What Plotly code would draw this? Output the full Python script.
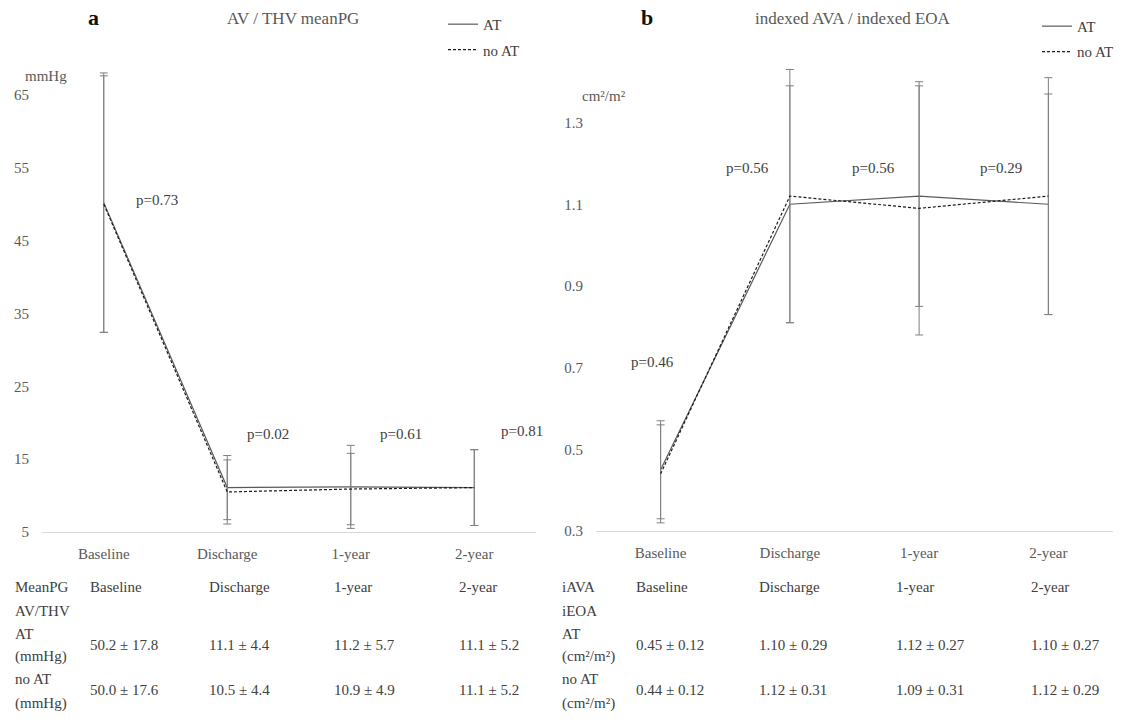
import plotly.graph_objects as go

# ---- data ---------------------------------------------------------------
stages = ["Baseline", "Discharge", "1-year", "2-year"]
xpos = [0, 1, 2, 3]

# mean pressure gradient (mmHg), mean and SD
pg_at_mean = [50.2, 11.1, 11.2, 11.1]
pg_at_sd = [17.8, 4.4, 5.7, 5.2]
pg_noat_mean = [50.0, 10.5, 10.9, 11.1]
pg_noat_sd = [17.6, 4.4, 4.9, 5.2]

# indexed AVA / EOA (cm2/m2), mean and SD
ia_at_mean = [0.45, 1.10, 1.12, 1.10]
ia_at_sd = [0.12, 0.29, 0.27, 0.27]
ia_noat_mean = [0.44, 1.12, 1.09, 1.12]
ia_noat_sd = [0.12, 0.31, 0.31, 0.29]

pg_pvalues = ["p=0.73", "p=0.02", "p=0.61", "p=0.81"]
ia_pvalues = ["p=0.46", "p=0.56", "p=0.56", "p=0.29"]

pg_ticks = [5, 15, 25, 35, 45, 55, 65]
ia_ticks = [0.3, 0.5, 0.7, 0.9, 1.1, 1.3]

# ---- styling ------------------------------------------------------------
W, H = 1127, 722
SERIF = "Liberation Serif, Times New Roman, serif"
TXT = "#404040"
AXTXT = "#595959"
ERR = "#7f7f7f"


def px(x):
    return x / W


def py(y):
    return 1 - y / H


fig = go.Figure()


def add_pair(xa, ya, at_m, at_s, no_m, no_s, legend):
    fig.add_trace(go.Scatter(
        x=xpos, y=at_m, mode="lines", name="AT",
        line=dict(color="#5a5a5a", width=1.2),
        error_y=dict(type="data", array=at_s, color=ERR, thickness=1, width=4),
        xaxis=xa, yaxis=ya, legend=legend, legendgroup=legend + "at",
    ))
    fig.add_trace(go.Scatter(
        x=xpos, y=no_m, mode="lines", name="no AT",
        line=dict(color="#1a1a1a", width=1.2, dash="3px,2px"),
        error_y=dict(type="data", array=no_s, color=ERR, thickness=1, width=4),
        xaxis=xa, yaxis=ya, legend=legend, legendgroup=legend + "noat",
    ))


add_pair("x", "y", pg_at_mean, pg_at_sd, pg_noat_mean, pg_noat_sd, "legend")
add_pair("x2", "y2", ia_at_mean, ia_at_sd, ia_noat_mean, ia_noat_sd, "legend2")

xcommon = dict(
    tickmode="array", tickvals=xpos, ticktext=stages, range=[-0.5, 3.5],
    showgrid=False, zeroline=False, showline=True, linecolor="#d9d9d9",
    linewidth=1, ticks="", tickfont=dict(family=SERIF, size=15, color=AXTXT),
    ticklabelstandoff=8,
)
ycommon = dict(
    tickmode="array", showgrid=False, zeroline=False, showline=False,
    ticks="", tickfont=dict(family=SERIF, size=15, color=AXTXT),
    ticklabelstandoff=12,
)

legend_font = dict(family=SERIF, size=15, color=TXT)
fig.update_layout(
    width=W, height=H,
    margin=dict(l=0, r=0, t=0, b=0),
    paper_bgcolor="white", plot_bgcolor="white",
    xaxis=dict(domain=[px(42), px(536)], anchor="y", **xcommon),
    yaxis=dict(domain=[py(538), py(59)], anchor="x", range=[5, 70],
               tickvals=pg_ticks, **ycommon),
    xaxis2=dict(domain=[px(596), px(1113)], anchor="y2", **xcommon),
    yaxis2=dict(domain=[py(537), py(62)], anchor="x2", range=[0.3, 1.45],
                tickvals=ia_ticks, **ycommon),
    legend=dict(x=px(443), y=py(8), xanchor="left", yanchor="top",
                bgcolor="rgba(0,0,0,0)", tracegroupgap=3, font=legend_font),
    legend2=dict(x=px(1037), y=py(10), xanchor="left", yanchor="top",
                 bgcolor="rgba(0,0,0,0)", tracegroupgap=3, font=legend_font),
    showlegend=True,
)

ann = []


def text(x, y, s, size=15, color=TXT, xanchor="left", bold=False, xref="paper", yref="paper"):
    if bold:
        s = "<b>" + s + "</b>"
    ann.append(dict(x=x, y=y, xref=xref, yref=yref, text=s, showarrow=False,
                    xanchor=xanchor, yanchor="middle",
                    font=dict(family=SERIF, size=size, color=color)))


# panel letters and titles
text(px(86), py(18), "a", size=22, color="#111111", bold=True)
text(px(293), py(19), "AV / THV meanPG", size=17, color=AXTXT, xanchor="center")
text(px(639), py(18), "b", size=22, color="#111111", bold=True)
text(px(853), py(19), "indexed AVA / indexed EOA", size=17, color=AXTXT, xanchor="center")

# unit labels
text(px(23), py(77), "mmHg", color=AXTXT)
text(px(580), py(97), "cm²/m²", color=AXTXT)

# p-values next to each time point
pg_p_xy = [(0.43, 50.5), (1.33, 18.4), (2.41, 18.4), (3.39, 18.9)]
for (xv, yv), s in zip(pg_p_xy, pg_pvalues):
    text(xv, yv, s, xref="x", yref="y", xanchor="center", color=TXT)
ia_p_xy = [(-0.06, 0.714), (0.67, 1.19), (1.65, 1.19), (2.63, 1.19)]
for (xv, yv), s in zip(ia_p_xy, ia_pvalues):
    text(xv, yv, s, xref="x2", yref="y2", xanchor="center", color=TXT)

# summary tables under each panel
row_head, row_at, row_no = 594, 652, 698
pg_cols = [88, 207, 332, 457]
ia_cols = [634, 757, 894, 1029]

for lbl, y in [("MeanPG", 594), ("AV/THV", 618), ("AT", 641), ("(mmHg)", 664),
               ("no AT", 687), ("(mmHg)", 711)]:
    text(px(13), py(y), lbl)
for lbl, y in [("iAVA", 594), ("iEOA", 618), ("AT", 641), ("(cm²/m²)", 664),
               ("no AT", 687), ("(cm²/m²)", 711)]:
    text(px(560), py(y), lbl)

for i, st in enumerate(stages):
    text(px(pg_cols[i]), py(row_head), st)
    text(px(ia_cols[i]), py(row_head), st)
    text(px(pg_cols[i]), py(row_at), f"{pg_at_mean[i]:.1f} ± {pg_at_sd[i]:.1f}")
    text(px(pg_cols[i]), py(row_no), f"{pg_noat_mean[i]:.1f} ± {pg_noat_sd[i]:.1f}")
    text(px(ia_cols[i]), py(row_at), f"{ia_at_mean[i]:.2f} ± {ia_at_sd[i]:.2f}")
    text(px(ia_cols[i]), py(row_no), f"{ia_noat_mean[i]:.2f} ± {ia_noat_sd[i]:.2f}")

fig.update_layout(annotations=ann)
fig.write_html("out.html")
